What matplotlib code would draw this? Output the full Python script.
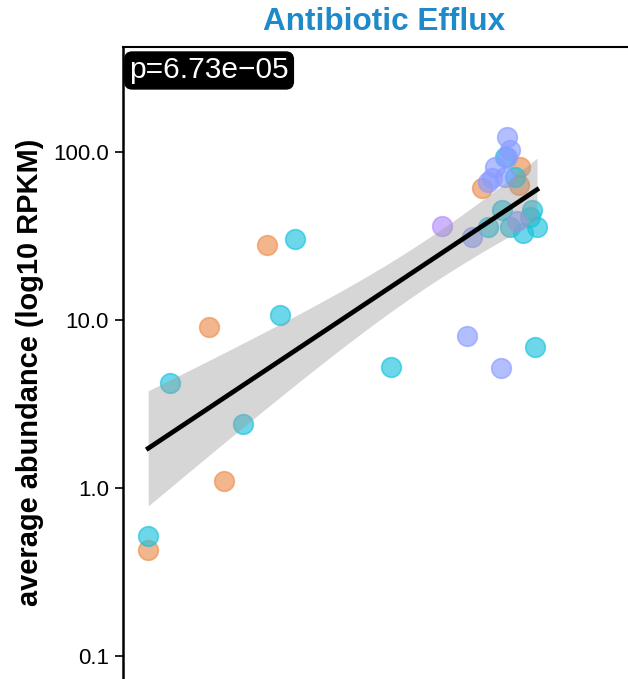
import numpy as np
import matplotlib
matplotlib.use("Agg")
import matplotlib.pyplot as plt

plt.rcParams['font.family'] = ['Liberation Sans', 'DejaVu Sans']

# x position (arbitrary units) and average abundance (RPKM) per group
orange_x = [0.63, 2.53, 2.15, 3.6, 8.98, 9.93, 9.9]
orange_y = [0.43, 1.10, 9.1, 27.9, 61, 81, 64]

cyan_x = [0.63, 1.18, 3.0, 3.93, 4.3, 6.7, 10.3, 9.55, 9.8, 9.48, 9.13, 10.23, 10.35, 10.0, 9.68, 10.18]
cyan_y = [0.52, 4.2, 2.4, 10.7, 30.3, 5.25, 6.9, 93, 71, 45, 35.8, 45, 35.8, 33, 35.8, 41]

blue_x = [9.6, 9.68, 9.6, 9.3, 9.23, 9.13, 9.55, 9.85, 8.73, 8.6, 9.45]
blue_y = [123, 103, 93, 81, 70, 66, 71, 39, 31, 8.0, 5.2]

purple_x = [7.98]
purple_y = [36.3]

p_label = "p=6.73e\u221205"
title = "Antibiotic Efflux"

fig = plt.figure(figsize=(6.28, 6.79), dpi=100)
ax = fig.add_axes([123 / 628, 0.0, 1.0, 1 - 47 / 679])

groups = [
    (orange_x, orange_y, '#EE8E4E'),
    (cyan_x, cyan_y, '#1CC2DE'),
    (blue_x, blue_y, '#8A9CFF'),
    (purple_x, purple_y, '#B48CFF'),
]
for gx, gy, col in groups:
    ax.scatter(gx, gy, s=200, color=col, alpha=0.65, edgecolors=col, linewidths=1.2, zorder=2)

# linear fit on log10 scale with 95% CI
all_x = np.array(orange_x + cyan_x + blue_x + purple_x)
all_y = np.log10(np.array(orange_y + cyan_y + blue_y + purple_y))
n = len(all_x)
slope, inter = np.polyfit(all_x, all_y, 1)
resid = all_y - (slope * all_x + inter)
s = np.sqrt(np.sum(resid ** 2) / (n - 2))
sxx = np.sum((all_x - all_x.mean()) ** 2)
xs = np.linspace(all_x.min(), all_x.max(), 100)
fit = slope * xs + inter
se = s * np.sqrt(1 / n + (xs - all_x.mean()) ** 2 / sxx)
t = 2.0345
ax.fill_between(xs, 10 ** (fit - t * se), 10 ** (fit + t * se), color='#999999', alpha=0.4, linewidth=0, zorder=3)
ax.plot(xs, 10 ** fit, color='black', linewidth=3.4, zorder=4)

ax.set_yscale('log')
ax.set_xlim(0, 15.7)
ax.set_ylim(10 ** (-1.137), 10 ** 2.625)
ax.set_yticks([0.1, 1, 10, 100])
ax.set_yticklabels(['0.1', '1.0', '10.0', '100.0'])
ax.minorticks_off()
ax.tick_params(axis='y', labelsize=16, length=6, width=1.2, pad=4, colors='black')
ax.set_xticks([])
for side in ['bottom', 'right']:
    ax.spines[side].set_visible(False)
ax.spines['left'].set_linewidth(1.8)
ax.spines['top'].set_linewidth(1.5)

ax.text(0.01, 0.985, p_label, transform=ax.transAxes, ha='left', va='top',
        fontsize=21.5, color='white', zorder=6,
        bbox=dict(boxstyle='round,pad=0.15,rounding_size=0.25', facecolor='black', edgecolor='black'))

fig.text(384 / 628, 1 - 22 / 679, title, ha='center', va='center', fontsize=22.7,
         fontweight='bold', color='#1E8AC9')
fig.text(30 / 628, 1 - 372 / 679, 'average abundance (log10 RPKM)', rotation=90,
         ha='center', va='center', fontsize=20.9, fontweight='bold')

fig.savefig('out.png', dpi=100)
